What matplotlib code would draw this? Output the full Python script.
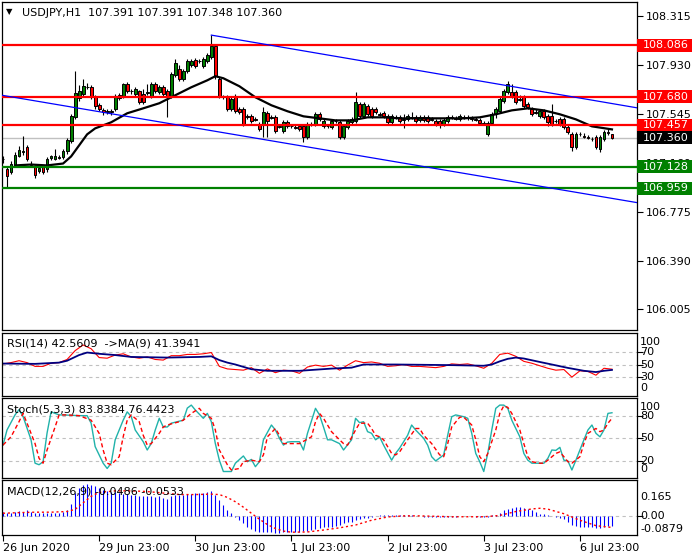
import numpy as np
import matplotlib
matplotlib.use("Agg")
import matplotlib.pyplot as plt
from matplotlib.patches import Rectangle

W, H = 700, 560

# USDJPY H1, bar 0 = 26 Jun 2020 23:00
opens = [
    107.187, 107.108, 107.092, 107.147, 107.211, 107.242, 107.282, 107.147, 107.124, 107.100,
    107.124, 107.108, 107.195, 107.187, 107.203, 107.203, 107.250, 107.329, 107.519, 107.669,
    107.701, 107.756, 107.756, 107.677, 107.614, 107.574, 107.559, 107.567, 107.582, 107.693,
    107.685, 107.780, 107.725, 107.701, 107.725, 107.701, 107.709, 107.685, 107.780, 107.717,
    107.756, 107.725, 107.685, 107.851, 107.898, 107.819, 107.883, 107.930, 107.970, 107.962,
    107.922, 107.962, 107.993, 108.080, 107.819, 107.677, 107.677, 107.582, 107.685, 107.582,
    107.582, 107.527, 107.527, 107.503, 107.464, 107.464, 107.551, 107.519, 107.519, 107.448,
    107.408, 107.480, 107.448, 107.440, 107.448, 107.448, 107.361, 107.464, 107.464, 107.543,
    107.448, 107.448, 107.440, 107.487, 107.480, 107.361, 107.440, 107.480, 107.487, 107.622,
    107.527, 107.606, 107.582, 107.582, 107.543, 107.551, 107.527, 107.480, 107.519, 107.519,
    107.503, 107.503, 107.519, 107.519, 107.495, 107.519, 107.519, 107.503, 107.487, 107.487,
    107.464, 107.487, 107.519, 107.511, 107.503, 107.519, 107.519, 107.511, 107.503, 107.495,
    107.472, 107.385, 107.472, 107.543, 107.567, 107.646, 107.717, 107.717, 107.717, 107.661,
    107.677, 107.622, 107.582, 107.559, 107.527, 107.567, 107.527, 107.527, 107.487, 107.503,
    107.503, 107.440, 107.385, 107.282, 107.385, 107.369, 107.361, 107.345, 107.361, 107.266,
    107.345, 107.400, 107.391]
highs = [
    107.211, 107.124, 107.171, 107.242, 107.290, 107.369, 107.298, 107.171, 107.140, 107.132,
    107.140, 107.203, 107.219, 107.266, 107.226, 107.266, 107.353, 107.543, 107.883, 107.772,
    107.819, 107.788, 107.772, 107.693, 107.630, 107.590, 107.582, 107.582, 107.701, 107.709,
    107.788, 107.796, 107.740, 107.756, 107.732, 107.740, 107.780, 107.796, 107.796, 107.772,
    107.772, 107.740, 107.875, 107.977, 107.930, 107.898, 107.977, 107.977, 107.985, 107.977,
    107.993, 108.025, 108.167, 108.096, 107.835, 107.693, 107.693, 107.677, 107.701, 107.598,
    107.598, 107.543, 107.543, 107.519, 107.480, 107.598, 107.567, 107.535, 107.535, 107.464,
    107.495, 107.495, 107.464, 107.456, 107.464, 107.464, 107.480, 107.480, 107.559, 107.559,
    107.503, 107.464, 107.503, 107.503, 107.495, 107.464, 107.503, 107.519, 107.717, 107.638,
    107.638, 107.622, 107.598, 107.598, 107.559, 107.567, 107.543, 107.543, 107.535, 107.535,
    107.543, 107.543, 107.559, 107.535, 107.535, 107.535, 107.535, 107.519, 107.503, 107.503,
    107.511, 107.535, 107.535, 107.527, 107.543, 107.535, 107.535, 107.527, 107.519, 107.511,
    107.487, 107.487, 107.559, 107.598, 107.677, 107.740, 107.804, 107.780, 107.732, 107.693,
    107.693, 107.638, 107.598, 107.582, 107.582, 107.582, 107.543, 107.622, 107.503, 107.519,
    107.519, 107.456, 107.400, 107.400, 107.400, 107.393, 107.377, 107.361, 107.377, 107.377,
    107.416, 107.424, 107.391]
lows = [
    107.163, 106.966, 107.076, 107.132, 107.203, 107.219, 107.171, 107.132, 107.037, 107.084,
    107.076, 107.092, 107.179, 107.179, 107.187, 107.187, 107.234, 107.314, 107.503, 107.646,
    107.685, 107.740, 107.661, 107.582, 107.567, 107.535, 107.543, 107.535, 107.567, 107.653,
    107.669, 107.709, 107.701, 107.685, 107.622, 107.622, 107.693, 107.669, 107.709, 107.701,
    107.685, 107.519, 107.669, 107.835, 107.804, 107.804, 107.867, 107.914, 107.906, 107.946,
    107.906, 107.946, 107.977, 107.819, 107.669, 107.661, 107.567, 107.567, 107.551, 107.543,
    107.448, 107.503, 107.472, 107.487, 107.408, 107.361, 107.361, 107.503, 107.393, 107.432,
    107.393, 107.432, 107.432, 107.424, 107.408, 107.321, 107.345, 107.448, 107.448, 107.487,
    107.432, 107.432, 107.424, 107.472, 107.345, 107.345, 107.424, 107.464, 107.472, 107.511,
    107.511, 107.527, 107.511, 107.543, 107.527, 107.511, 107.464, 107.464, 107.503, 107.472,
    107.432, 107.487, 107.503, 107.472, 107.480, 107.480, 107.472, 107.487, 107.448, 107.432,
    107.448, 107.472, 107.503, 107.495, 107.487, 107.503, 107.495, 107.487, 107.487, 107.456,
    107.456, 107.369, 107.464, 107.511, 107.551, 107.630, 107.701, 107.669, 107.622, 107.646,
    107.590, 107.582, 107.527, 107.543, 107.511, 107.503, 107.448, 107.448, 107.472, 107.448,
    107.424, 107.385, 107.250, 107.266, 107.369, 107.353, 107.345, 107.329, 107.266, 107.242,
    107.329, 107.377, 107.348]
closes = [
    107.190, 107.053, 107.155, 107.226, 107.258, 107.250, 107.187, 107.150, 107.068, 107.116,
    107.092, 107.187, 107.211, 107.211, 107.200, 107.250, 107.337, 107.527, 107.709, 107.725,
    107.764, 107.760, 107.685, 107.606, 107.582, 107.559, 107.567, 107.559, 107.685, 107.669,
    107.780, 107.725, 107.728, 107.740, 107.638, 107.638, 107.717, 107.780, 107.725, 107.756,
    107.701, 107.685, 107.859, 107.946, 107.819, 107.883, 107.962, 107.962, 107.922, 107.960,
    107.977, 108.009, 108.080, 107.843, 107.685, 107.680, 107.582, 107.661, 107.567, 107.559,
    107.464, 107.524, 107.487, 107.500, 107.424, 107.559, 107.487, 107.516, 107.408, 107.445,
    107.480, 107.448, 107.450, 107.437, 107.424, 107.361, 107.464, 107.467, 107.543, 107.503,
    107.487, 107.450, 107.487, 107.490, 107.361, 107.448, 107.487, 107.503, 107.638, 107.527,
    107.622, 107.543, 107.527, 107.559, 107.540, 107.527, 107.480, 107.527, 107.516, 107.487,
    107.500, 107.527, 107.516, 107.487, 107.519, 107.495, 107.487, 107.500, 107.464, 107.464,
    107.495, 107.519, 107.516, 107.508, 107.527, 107.516, 107.511, 107.503, 107.500, 107.472,
    107.470, 107.472, 107.543, 107.582, 107.661, 107.725, 107.780, 107.685, 107.638, 107.658,
    107.606, 107.598, 107.543, 107.556, 107.567, 107.519, 107.480, 107.464, 107.490, 107.464,
    107.440, 107.400, 107.282, 107.385, 107.388, 107.366, 107.358, 107.348, 107.282, 107.361,
    107.400, 107.397, 107.360]

# moving average on price
ma_bars = [3, 7, 11, 15, 17, 19, 21, 23, 27, 31, 35, 39, 43, 47, 51, 53, 55, 59, 63, 67,
           71, 75, 79, 83, 87, 91, 95, 99, 103, 107, 111, 115, 119, 123, 127, 131, 135, 139, 143, 147, 152]
ma_vals = [107.140, 107.147, 107.140, 107.155, 107.211, 107.298, 107.385, 107.432, 107.480, 107.551,
           107.590, 107.630, 107.693, 107.756, 107.811, 107.843, 107.827, 107.764, 107.677, 107.614,
           107.567, 107.527, 107.511, 107.495, 107.495, 107.519, 107.519, 107.511, 107.511, 107.511,
           107.511, 107.511, 107.519, 107.543, 107.574, 107.590, 107.574, 107.543, 107.503, 107.448, 107.424]

red_levels = [108.086, 107.680, 107.457]
green_levels = [107.128, 106.959]
bid = 107.360

# channel trendlines: (bar, price) anchors
chan_upper = [(52, 108.167), (158.25, 107.594)]
chan_lower = [(-0.25, 107.693), (158.25, 106.847)]

price_ticks = [108.315, 107.930, 107.545, 107.160, 106.775, 106.390, 106.005]

# RSI(14), every second bar
rsi_bars = list(range(0, 153, 2))
rsi_vals = [51, 53, 56, 53, 47, 47, 52, 53, 58, 72,
            81, 75, 61, 60, 65, 67, 62, 60, 62, 58,
            57, 64, 64, 66, 66, 67, 69, 47, 43, 42,
            41, 45, 36, 43, 37, 41, 40, 36, 46, 49,
            47, 49, 41, 49, 56, 53, 54, 52, 47, 48,
            50, 47, 47, 46, 45, 47, 51, 50, 51, 48,
            44, 52, 66, 68, 63, 55, 52, 48, 44, 41,
            42, 30, 40, 39, 33, 44, 42.56]
rsi_ma_bars = [0, 8, 14, 16, 19, 21, 24, 28, 32, 41, 49, 52, 54, 56, 58, 62, 66, 74, 82, 87,
               90, 98, 112, 120, 122, 124, 126, 128, 130, 134, 137, 141, 145, 148, 150, 152]
rsi_ma_vals = [51.5, 51, 53, 56, 65, 69, 67, 65, 62, 61, 62, 63, 57, 53, 50, 42.5, 40, 40, 43.5, 45,
               50, 50, 49, 48, 50, 55, 59, 61, 59.5, 54, 50, 44.6, 40, 38, 40, 41.39]

# Stochastic(5,3,3)
k_bars = [0, 1, 3, 4, 5, 7, 8, 9, 10, 11, 12, 14, 15, 19, 21, 22, 23, 25, 26, 27,
          28, 30, 31, 32, 33, 35, 36, 37, 38, 39, 40, 41, 42, 45, 46, 47, 48, 50, 51, 52,
          53, 54, 55, 57, 58, 60, 61, 62, 63, 64, 65, 67, 68, 69, 70, 71, 72, 74, 75, 76,
          78, 79, 80, 81, 82, 84, 85, 87, 88, 89, 90, 91, 92, 93, 94, 95, 97, 98, 99, 101,
          102, 103, 105, 106, 107, 108, 110, 111, 112, 113, 115, 116, 117, 118, 119, 120, 121, 122, 123, 124,
          125, 126, 127, 129, 130, 131, 132, 134, 135, 136, 137, 138, 139, 140, 141, 142, 143, 145, 146, 147,
          148, 149, 150, 151, 152]
k_vals = [41, 61, 81, 88, 79, 48, 17, 15, 19, 57, 85, 81, 81, 80, 80, 70, 39, 17, 10, 17,
          48, 74, 85, 79, 61, 45.5, 34.5, 43, 61, 76.5, 65, 65, 70, 74, 90, 94, 87.5, 76.5, 83, 72,
          43, 21, 6, 6, 17, 26.6, 19, 22, 12.4, 19, 48, 67.6, 61, 50, 41, 45, 45.5, 45.5, 34.5, 56.6,
          89.7, 81, 65, 48, 48, 43, 34.5, 48, 76.5, 70.7, 72, 58.8, 56.6, 48, 52, 41, 21, 30, 37, 54,
          67.6, 61, 50, 41, 25.6, 20, 28, 54, 78.6, 81, 78.6, 76.5, 56.6, 30, 19, 6, 30, 61, 89.7, 94,
          94, 89.7, 74, 52, 30, 21, 17, 17, 17, 23.5, 34.5, 34, 38, 21, 20, 8, 21, 48, 61, 67.6,
          56.6, 52, 61, 83, 83.84]
d_bars = [0, 2, 4, 5, 6, 8, 9, 10, 11, 13, 14, 16, 19, 22, 24, 25, 26, 27, 29, 30,
          31, 32, 34, 35, 36, 37, 39, 40, 41, 44, 45, 47, 49, 50, 52, 53, 54, 56, 57, 59,
          60, 62, 64, 65, 66, 68, 69, 70, 74, 77, 78, 79, 80, 82, 84, 85, 86, 88, 89, 91,
          92, 93, 94, 95, 97, 98, 99, 101, 103, 104, 105, 107, 109, 110, 111, 112, 114, 115, 117, 118,
          119, 120, 121, 123, 124, 125, 126, 127, 129, 130, 131, 132, 134, 135, 136, 138, 139, 140, 141, 142,
          144, 145, 146, 148, 149, 150, 151, 152]
d_vals = [41, 52, 72, 83, 70, 43, 23.5, 17, 34.5, 65, 81, 81, 80, 74, 56.6, 34.5, 17, 15, 25.6, 52,
          74, 81, 72, 54, 41, 43, 56.6, 65, 67.6, 72, 74, 83, 89.7, 83, 76.5, 61, 34.5, 15, 8, 10,
          19, 21, 19, 28, 52, 63, 54, 43, 43, 52, 72, 83, 76.5, 58.8, 48, 43, 41, 61, 70, 70,
          63, 54, 52, 48, 30, 28, 32, 48, 63, 63, 54, 43, 28, 25.6, 43, 65, 78, 78, 67.6, 48,
          25.6, 19, 30, 61, 83, 93, 91, 83, 61, 43, 25.6, 19, 17, 17, 21, 30, 32, 25.6, 19, 17,
          25.6, 43, 56.6, 63, 58.8, 61, 70, 76.44]

# MACD(12,26,9): main (histogram) per bar, signal sampled
macd_vals = [
    0.017, 0.012, 0.012, 0.017, 0.023, 0.020, 0.028, 0.020, 0.012, 0.012,
    0.012, 0.012, 0.015, 0.012, 0.015, 0.020, 0.028, 0.056, 0.105, 0.128,
    0.143, 0.145, 0.143, 0.136, 0.128, 0.120, 0.113, 0.108, 0.108, 0.105,
    0.102, 0.102, 0.097, 0.097, 0.093, 0.090, 0.090, 0.090, 0.086, 0.090,
    0.082, 0.077, 0.090, 0.097, 0.097, 0.097, 0.102, 0.102, 0.105, 0.105,
    0.105, 0.108, 0.113, 0.097, 0.074, 0.051, 0.028, 0.012, -0.003, -0.019,
    -0.034, -0.049, -0.062, -0.068, -0.073, -0.073, -0.073, -0.076, -0.077, -0.077,
    -0.076, -0.076, -0.076, -0.076, -0.073, -0.069, -0.068, -0.065, -0.062, -0.057,
    -0.052, -0.049, -0.049, -0.045, -0.042, -0.035, -0.030, -0.026, -0.019, -0.015,
    -0.012, -0.008, -0.005, -0.002, 0.002, 0.005, 0.005, 0.006, 0.005, 0.004,
    0.003, 0.003, 0.002, 0.001, -0.002, -0.003, -0.003, -0.004, -0.005, -0.006,
    -0.005, -0.004, -0.003, -0.003, -0.002, -0.002, -0.002, -0.002, -0.003, -0.004,
    -0.005, -0.004, 0.002, 0.006, 0.012, 0.025, 0.031, 0.035, 0.040, 0.040,
    0.038, 0.033, 0.026, 0.016, 0.010, 0.007, 0.004, 0.000, -0.003, -0.008,
    -0.015, -0.026, -0.042, -0.046, -0.049, -0.049, -0.052, -0.052, -0.057, -0.057,
    -0.049, -0.047, -0.0486]
sig_bars = [0, 4, 8, 12, 16, 18, 20, 22, 24, 28, 32, 36, 40, 44, 48, 52, 54, 56, 58, 60,
            62, 64, 66, 68, 70, 72, 76, 80, 84, 88, 92, 96, 100, 104, 108, 112, 116, 120, 124, 128,
            132, 134, 136, 140, 144, 148, 152]
sig_vals = [0.012, 0.015, 0.017, 0.017, 0.020, 0.030, 0.060, 0.090, 0.108, 0.115,
            0.115, 0.112, 0.105, 0.098, 0.098, 0.100, 0.098, 0.085, 0.065, 0.040,
            0.012, -0.015, -0.040, -0.058, -0.070, -0.075, -0.074, -0.065, -0.055, -0.042,
            -0.020, -0.005, 0.000, 0.000, -0.002, -0.004, -0.004, -0.004, 0.002, 0.020,
            0.032, 0.035, 0.031, 0.010, -0.020, -0.045, -0.0533]

date_bars = [0, 24, 48, 72, 96, 120, 144]
date_labels = ["26 Jun 2020", "29 Jun 23:00", "30 Jun 23:00", "1 Jul 23:00",
               "2 Jul 23:00", "3 Jul 23:00", "6 Jul 23:00"]

GREEN = "#008000"
FS = 8

fig = plt.figure(figsize=(W / 100, H / 100), dpi=100)


def px_axes(top, bottom, left=2, right=637):
    return fig.add_axes([left / W, 1 - bottom / H, (right - left) / W, (bottom - top) / H])


def ftext(x, y, s, size=FS):
    fig.text(x / W, 1 - y / H, s, fontsize=size, va="center")


def side_label(a, val, s):
    a.text(1.0 + 3 / 635, val, s, transform=a.get_yaxis_transform(), fontsize=FS,
           va="center", ha="left", clip_on=False)


def price_box(a, val, color):
    a.add_patch(Rectangle((1.0, val - 0.0514), 55 / 635, 0.1028, transform=a.get_yaxis_transform(),
                          facecolor=color, edgecolor="none", clip_on=False, zorder=6))
    a.text(1.0 + 6 / 635, val, f"{val:.3f}", transform=a.get_yaxis_transform(), color="white",
           fontsize=FS, va="center", ha="left", clip_on=False, zorder=7)


ax = px_axes(2, 330)
ax_rsi = px_axes(333, 396)
ax_sto = px_axes(398, 478)
ax_macd = px_axes(480, 535)

for a in (ax, ax_rsi, ax_sto, ax_macd):
    a.set_xlim(-0.25, 158.25)
    a.set_xticks([])
    for s in a.spines.values():
        s.set_linewidth(0.9)
    a.yaxis.tick_right()
    a.tick_params(axis="y", length=4, width=0.8, pad=2, labelsize=FS)

# ---- main price panel ----
x = np.arange(len(closes))
o, h, l, c = map(np.array, (opens, highs, lows, closes))
ax.set_ylim(105.843, 108.428)
ax.axhline(bid, color="#c0c0c0", lw=1, zorder=1)
ax.vlines(x, l, h, color="black", lw=0.8, zorder=2)
ax.bar(x, c - o, bottom=o, width=0.7, color=np.where(c >= o, GREEN, "red"),
       edgecolor="black", linewidth=0.7, zorder=3)
ax.plot(ma_bars, ma_vals, color="black", lw=1.6, zorder=4)
for lv in red_levels:
    ax.axhline(lv, color="red", lw=1.6, zorder=5)
for lv in green_levels:
    ax.axhline(lv, color=GREEN, lw=1.6, zorder=5)
for line in (chan_upper, chan_lower):
    ax.plot([p[0] for p in line], [p[1] for p in line], color="blue", lw=0.9, zorder=5)
ax.set_yticks(price_ticks)
ax.set_yticklabels([f"{v:.3f}" for v in price_ticks])
for lv in red_levels:
    price_box(ax, lv, "red")
for lv in green_levels:
    price_box(ax, lv, GREEN)
price_box(ax, bid, "black")

ftext(6, 12, "\u25bc", size=6)
ftext(22, 12.5, f"USDJPY,H1  {opens[-1]:.3f} {highs[-1]:.3f} {lows[-1]:.3f} {closes[-1]:.3f}")

# ---- RSI ----
ax_rsi.set_ylim(0, 100)
for lv in (70, 50, 30):
    ax_rsi.axhline(lv, color="#c0c0c0", lw=0.8, ls=(0, (3, 3)), zorder=1)
ax_rsi.plot(rsi_bars, rsi_vals, color="red", lw=0.8)
ax_rsi.plot(rsi_ma_bars, rsi_ma_vals, color="#000080", lw=1.3)
ax_rsi.set_yticks([70, 50, 30])
ax_rsi.set_yticklabels([])
for val, s in ((86, "100"), (70, "70"), (50, "50"), (30, "30"), (12, "0")):
    side_label(ax_rsi, val, s)
ftext(7, 343.5, "RSI(14) 42.5609  ->MA(9) 41.3941")

# ---- Stochastic ----
ax_sto.set_ylim(-2.6, 103.4)
for lv in (80, 50, 20):
    ax_sto.axhline(lv, color="#c0c0c0", lw=0.8, ls=(0, (3, 3)), zorder=1)
ax_sto.plot(k_bars, k_vals, color="#20b2aa", lw=1.0)
ax_sto.plot(d_bars, d_vals, color="red", lw=1.0, ls=(0, (3, 2)))
ax_sto.set_yticks([80, 50, 20])
ax_sto.set_yticklabels([])
for val, s in ((91.9, "100"), (80, "80"), (50, "50"), (20, "20"), (9.3, "0")):
    side_label(ax_sto, val, s)
ftext(7, 409, "Stoch(5,3,3) 83.8384 76.4423")

# ---- MACD ----
ax_macd.set_ylim(-0.0879, 0.165)
ax_macd.axhline(0, color="#c0c0c0", lw=0.8, ls=(0, (3, 3)), zorder=1)
ax_macd.vlines(x, 0, macd_vals, color="blue", lw=0.8, zorder=2)
ax_macd.plot(sig_bars, sig_vals, color="red", lw=1.0, ls=(0, (1.5, 2)), zorder=3)
ax_macd.set_yticks([0])
ax_macd.set_yticklabels([])
for val, s in ((0.0855, "0.165"), (0, "0.00"), (-0.060, "-0.0879")):
    side_label(ax_macd, val, s)
ftext(7, 491, f"MACD(12,26,9) {macd_vals[-1]:.4f} {sig_vals[-1]:.4f}")

ax_macd.set_xticks(date_bars)
ax_macd.set_xticklabels(date_labels, ha="left", fontsize=FS)
ax_macd.tick_params(axis="x", length=4, width=0.8, pad=2)

fig.savefig("out.png", dpi=100)
